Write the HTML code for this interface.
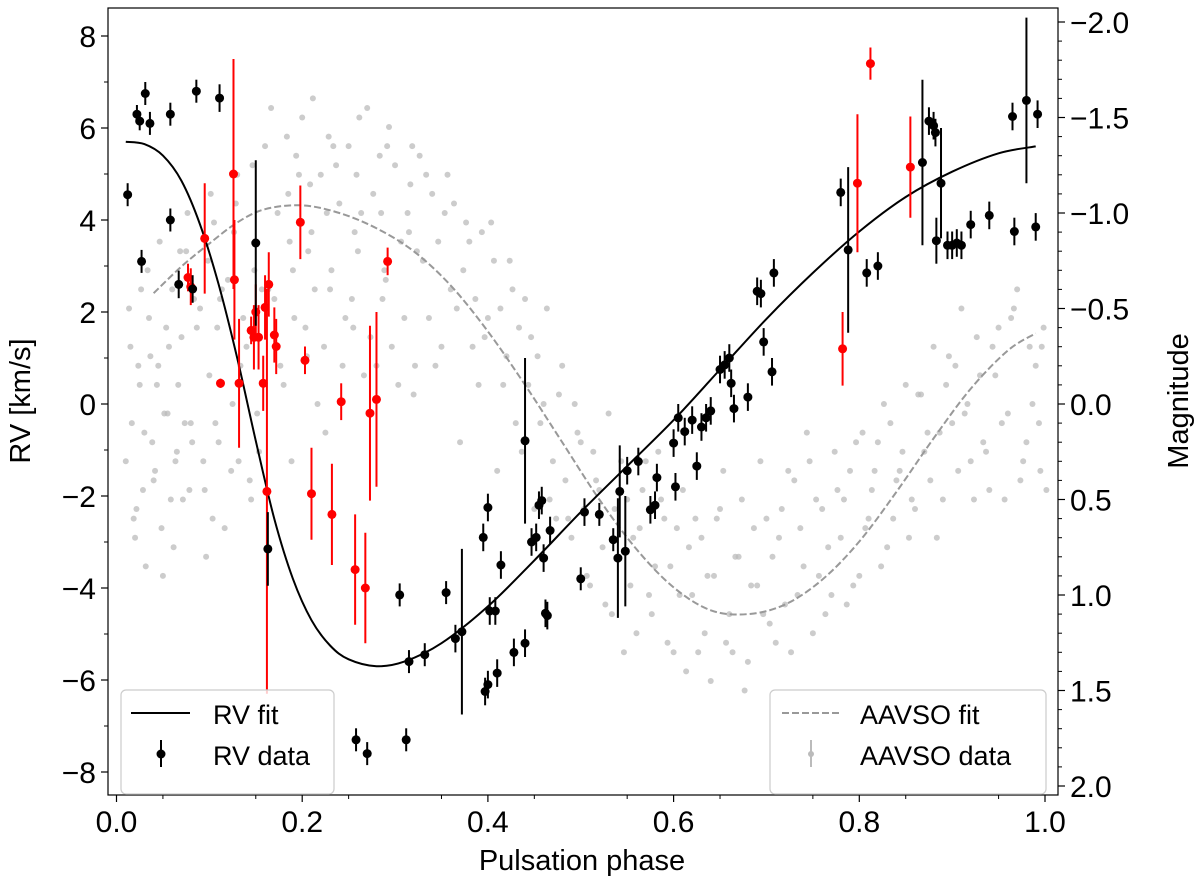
<!DOCTYPE html>
<html><head><meta charset="utf-8"><style>
body{margin:0;background:#fff}
svg{display:block;font-family:"Liberation Sans","DejaVu Sans",sans-serif}
</style></head><body>
<svg id="chart" width="1200" height="886" viewBox="0 0 1200 886"></svg>
<script>
const xTicks=[0.0,0.2,0.4,0.6,0.8,1.0];
const yTicks=[8,6,4,2,0,-2,-4,-6,-8];
const y2Ticks=["\u22122.0","\u22121.5","\u22121.0","\u22120.5","0.0","0.5","1.0","1.5","2.0"];
const y2TickVals=[-2.0,-1.5,-1.0,-0.5,0.0,0.5,1.0,1.5,2.0];
const fitPhase=[0.01,0.03,0.05,0.07,0.09,0.11,0.13,0.15,0.17,0.19,0.21,0.23,0.25,0.28,0.31,0.35,0.4,0.45,0.5,0.55,0.6,0.65,0.7,0.75,0.8,0.85,0.9,0.95,0.99];
const fitRV=[5.7,5.65,5.4,4.85,3.9,2.6,1.0,-0.8,-2.5,-3.8,-4.7,-5.25,-5.55,-5.7,-5.6,-5.2,-4.4,-3.4,-2.35,-1.35,-0.35,0.75,1.85,2.85,3.75,4.5,5.05,5.45,5.6];
const aavsoFitPhase=[0.04,0.07,0.1,0.13,0.16,0.2,0.24,0.28,0.32,0.36,0.4,0.44,0.48,0.52,0.56,0.6,0.64,0.68,0.72,0.76,0.8,0.84,0.88,0.92,0.96,0.99];
const aavsoFitMag=[-0.58,-0.72,-0.84,-0.95,-1.02,-1.04,-1.0,-0.92,-0.8,-0.62,-0.38,-0.1,0.2,0.5,0.76,0.96,1.08,1.1,1.05,0.92,0.72,0.46,0.18,-0.08,-0.28,-0.37];
const rvBlack=[[0.012,4.55,0.25],[0.022,6.3,0.2],[0.025,6.15,0.2],[0.027,3.1,0.25],[0.031,6.75,0.25],[0.036,6.1,0.25],[0.058,4.0,0.25],[0.058,6.3,0.25],[0.067,2.6,0.3],[0.082,2.5,0.3],[0.086,6.8,0.25],[0.111,6.65,0.3],[0.15,3.5,1.8],[0.163,-3.15,0.8],[0.305,-4.15,0.25],[0.315,-5.6,0.25],[0.312,-7.3,0.25],[0.258,-7.3,0.25],[0.27,-7.6,0.25],[0.332,-5.45,0.25],[0.355,-4.1,0.25],[0.365,-5.1,0.3],[0.372,-4.95,1.8],[0.395,-2.9,0.3],[0.397,-6.25,0.3],[0.4,-6.1,0.3],[0.4,-2.25,0.3],[0.402,-4.5,0.3],[0.408,-4.5,0.3],[0.41,-5.85,0.3],[0.414,-3.5,0.3],[0.428,-5.4,0.3],[0.44,-5.2,0.3],[0.44,-0.8,1.8],[0.447,-3.0,0.3],[0.452,-2.9,0.3],[0.455,-2.2,0.3],[0.458,-2.1,0.3],[0.46,-3.35,0.3],[0.462,-4.55,0.3],[0.464,-4.6,0.3],[0.467,-2.75,0.3],[0.5,-3.8,0.25],[0.504,-2.35,0.3],[0.52,-2.4,0.25],[0.535,-2.95,0.25],[0.54,-3.35,1.3],[0.542,-1.9,1.0],[0.548,-3.2,1.2],[0.55,-1.45,0.3],[0.562,-1.25,0.3],[0.575,-2.3,0.3],[0.58,-2.2,0.3],[0.582,-1.6,0.3],[0.6,-0.85,0.3],[0.602,-1.8,0.3],[0.605,-0.3,0.3],[0.612,-0.6,0.3],[0.62,-0.35,0.3],[0.625,-1.35,0.3],[0.63,-0.5,0.3],[0.635,-0.3,0.3],[0.64,-0.15,0.3],[0.65,0.75,0.3],[0.655,0.85,0.3],[0.66,1.0,0.3],[0.662,0.45,0.3],[0.665,-0.1,0.3],[0.68,0.15,0.3],[0.69,2.45,0.3],[0.694,2.4,0.3],[0.697,1.35,0.3],[0.706,0.7,0.3],[0.708,2.85,0.3],[0.78,4.6,0.3],[0.788,3.35,1.8],[0.808,2.85,0.3],[0.82,3.0,0.3],[0.868,5.25,1.8],[0.875,6.15,0.3],[0.88,6.05,0.3],[0.882,5.9,0.3],[0.883,3.55,0.5],[0.888,4.8,1.2],[0.895,3.45,0.3],[0.9,3.45,0.3],[0.905,3.5,0.3],[0.91,3.45,0.3],[0.92,3.9,0.3],[0.94,4.1,0.3],[0.965,6.25,0.3],[0.967,3.75,0.3],[0.98,6.6,1.8],[0.99,3.85,0.3],[0.992,6.3,0.3]];
const rvRed=[[0.077,2.75,0.3],[0.08,2.55,0.4],[0.095,3.6,1.2],[0.112,0.45,0.1],[0.126,5.0,2.5],[0.127,2.7,1.3],[0.132,0.45,1.4],[0.145,1.6,0.3],[0.148,1.45,0.7],[0.15,2.0,0.6],[0.153,1.45,0.7],[0.158,0.45,0.6],[0.16,2.1,0.7],[0.162,-1.9,4.4],[0.164,2.6,0.7],[0.17,1.5,0.6],[0.172,1.25,0.6],[0.198,3.95,0.8],[0.203,0.95,0.3],[0.21,-1.95,1.0],[0.232,-2.4,1.1],[0.242,0.05,0.4],[0.257,-3.6,1.2],[0.268,-4.0,1.2],[0.273,-0.2,1.9],[0.28,0.1,1.9],[0.292,3.1,0.3],[0.782,1.2,0.8],[0.798,4.8,1.5],[0.812,7.4,0.35],[0.855,5.15,1.1]];
const aavsoPhase=[0.01,0.015,0.02,0.025,0.03,0.035,0.04,0.045,0.05,0.055,0.06,0.065,0.07,0.075,0.08,0.09,0.095,0.1,0.105,0.11,0.12,0.125,0.13,0.14,0.145,0.15,0.16,0.17,0.18,0.185,0.19,0.2,0.205,0.21,0.22,0.225,0.23,0.24,0.25,0.255,0.26,0.27,0.28,0.285,0.29,0.3,0.31,0.315,0.32,0.33,0.34,0.35,0.36,0.37,0.38,0.39,0.4,0.41,0.42,0.43,0.44,0.45,0.46,0.47,0.48,0.49,0.5,0.51,0.52,0.53,0.54,0.55,0.56,0.57,0.58,0.59,0.6,0.61,0.62,0.63,0.64,0.65,0.66,0.67,0.68,0.69,0.7,0.71,0.72,0.73,0.74,0.75,0.76,0.77,0.78,0.79,0.8,0.81,0.82,0.83,0.84,0.85,0.86,0.87,0.88,0.89,0.9,0.91,0.92,0.93,0.94,0.95,0.96,0.97,0.98,0.99,0.995];
const aavsoMag=[0.3,-0.3,0.7,-0.1,0.15,-0.45,0.4,-0.2,0.9,0.05,-0.6,0.25,-0.35,-0.8,0.1,-0.5,0.45,-0.15,-0.95,0.2,-0.65,0.0,-1.2,-0.3,0.5,-0.85,-1.35,-0.55,-0.1,-1.1,-0.7,-1.5,-0.25,-0.9,-1.2,0.15,-0.6,-1.05,-1.35,-0.4,-0.8,-1.55,-0.2,-1.0,-0.65,-1.25,-0.45,-0.9,-0.05,-0.75,-1.1,-0.3,-0.6,0.2,-0.85,-0.1,-0.45,0.35,-0.25,0.1,-0.55,0.55,0.0,0.3,-0.2,0.7,0.2,0.95,0.45,0.05,0.8,0.5,1.2,0.3,0.85,0.6,1.3,0.45,1.0,0.7,1.45,0.55,1.1,0.8,1.35,0.95,0.6,1.25,1.05,0.4,0.85,1.2,0.55,1.0,0.7,0.35,0.9,0.6,0.2,0.75,0.4,-0.1,0.55,0.25,-0.3,0.5,0.1,-0.5,0.3,-0.15,0.45,-0.4,0.05,-0.6,0.2,-0.2,0.35];
const aavsoMag2=[-0.5,0.6,-0.2,0.45,-0.7,0.2,-0.1,0.65,-0.4,0.5,0.3,-0.8,0.1,0.45,-0.55,0.3,-0.75,0.6,-0.4,-0.6,0.35,-1.05,-0.2,0.4,-0.7,0.25,-0.6,-1.0,-1.4,0.3,-1.3,-0.4,-1.15,-0.6,-0.3,-1.4,-1.35,-0.2,-0.55,-1.2,-1.0,-0.35,-1.3,-0.7,-1.45,-0.1,-1.0,-1.35,-0.8,-1.2,-0.2,-1.0,-1.05,-0.7,-0.3,-0.9,-0.95,-0.5,-0.75,-0.4,-0.1,-0.25,-0.5,0.6,0.4,0.0,0.55,0.25,0.75,1.1,0.3,0.95,0.65,1.0,0.25,1.25,0.65,1.4,0.6,1.2,0.9,0.35,1.3,0.5,0.95,0.3,1.15,0.7,0.35,1.0,0.15,0.5,1.1,0.25,0.5,0.95,0.15,0.45,0.85,0.1,0.35,0.7,-0.05,0.15,0.7,-0.1,-0.2,0.05,0.5,0.2,-0.3,0.1,-0.45,0.4,-0.3,0.1,-0.4];
const aavsoMag3=[0.1,0.55,-0.6,0.85,-0.25,0.35,-0.85,0.05,-0.3,0.75,-0.1,0.5,-1.0,0.2,-0.4,0.8,-1.1,0.1,-0.55,0.65,-0.9,0.3,-0.45,-1.25,0.05,-0.6,-1.55,-0.2,-0.85,-0.45,-1.2,-0.8,-1.6,0.0,-1.0,-0.7,-1.25,-0.45,-0.9,-1.5,-0.15,-1.1,-0.55,-1.35,-0.3,-0.85,-1.15,-0.2,-1.3,-0.45,-0.85,-1.2,-0.5,-0.95,-0.55,-0.35,-0.75,-0.1,-0.6,0.25,-0.35,0.1,0.5,-0.05,0.6,0.15,0.9,0.4,1.05,0.55,1.3,0.7,0.45,1.1,0.5,0.85,1.0,0.75,1.3,0.9,0.6,1.25,0.8,1.5,0.65,1.1,0.8,0.55,1.3,0.65,0.3,0.9,0.75,0.45,1.05,0.2,0.65,0.35,0.0,0.6,0.25,0.5,-0.05,0.4,0.15,-0.25,0.35,0.0,-0.35,0.25,-0.15,0.5,-0.5,0.3,0.0,-0.3,0.45];

const NS='http://www.w3.org/2000/svg';
const svg=document.getElementById('chart');
const L=108,R=1058,T=8,B=795;
const xS=p=>116.5+p*928.5;
const yS=v=>404-v*46;
const y2S=m=>404+m*191;
function mk(tag,attrs,parent){const e=document.createElementNS(NS,tag);for(const k in attrs)e.setAttribute(k,attrs[k]);(parent||svg).appendChild(e);return e;}

const gAav=mk('g',{});


[[aavsoMag,0],[aavsoMag2,0.0035],[aavsoMag3,0.0065]].forEach(([arr,off])=>aavsoPhase.forEach((p,i)=>{const c=mk('circle',{cx:xS(p+off),cy:y2S(arr[i]),r:3,fill:'#bbb','fill-opacity':0.75},gAav);

}));

function smooth(xs,ys){let pts=xs.map((p,i)=>[p,ys[i]]);let d='M'+pts[0];
for(let i=0;i<pts.length-1;i++){const p0=pts[Math.max(0,i-1)],p1=pts[i],p2=pts[i+1],p3=pts[Math.min(pts.length-1,i+2)];
d+=`C${p1[0]+(p2[0]-p0[0])/6},${p1[1]+(p2[1]-p0[1])/6} ${p2[0]-(p3[0]-p1[0])/6},${p2[1]-(p3[1]-p1[1])/6} ${p2[0]},${p2[1]}`;}return d;}
const aPath=mk('path',{d:smooth(aavsoFitPhase.map(xS),aavsoFitMag.map(y2S)),fill:'none',stroke:'#999','stroke-width':2,'stroke-dasharray':'7,3'});


const fPath=mk('path',{d:smooth(fitPhase.map(xS),fitRV.map(yS)),fill:'none',stroke:'#000','stroke-width':2});



function drawPts(arr,col,name){const g=mk('g',{});


arr.forEach(([p,v,e])=>{const x=xS(p);mk('line',{x1:x,x2:x,y1:yS(v+e),y2:yS(v-e),stroke:col,'stroke-width':2},g);
const c=mk('circle',{cx:x,cy:yS(v),r:4.5,fill:col},g);

});}
drawPts(rvRed,'#ff0000','rv-data-red');
drawPts(rvBlack,'#000','rv-data-black');

const fr=mk('rect',{x:L,y:T,width:R-L,height:B-T,fill:'none',stroke:'#000','stroke-width':1.2});


function txt(x,y,s,anchor,size,name){const t=mk('text',{x:x,y:y,'text-anchor':anchor,'font-size':size,fill:'#000'});t.textContent=s;

return t;}
const fmt=v=>(v<0?'\u2212':'')+Math.abs(v);
xTicks.forEach(v=>{const x=xS(v);mk('line',{x1:x,x2:x,y1:B,y2:B+7,stroke:'#000','stroke-width':1.2});txt(x,B+37,v.toFixed(1),'middle',30,'x-tick-label');});
for(let v=0.05;v<1;v+=0.1){const x=xS(v);mk('line',{x1:x,x2:x,y1:B,y2:B+4,stroke:'#000'});}
yTicks.forEach(v=>{const y=yS(v);mk('line',{x1:L,x2:L-7,y1:y,y2:y,stroke:'#000','stroke-width':1.2});txt(L-12,y+11,fmt(v),'end',30,'y-tick-label');});
for(let v=-9;v<=9;v+=2){const y=yS(v);if(y>T&&y<B)mk('line',{x1:L,x2:L-4,y1:y,y2:y,stroke:'#000'});}
y2TickVals.forEach((v,i)=>{const y=y2S(v);mk('line',{x1:R,x2:R+7,y1:y,y2:y,stroke:'#000','stroke-width':1.2});txt(R+12,y+11,y2Ticks[i],'start',30,'y2-tick-label');});
for(let v=-2;v<=2.01;v+=0.1){const y=y2S(v);if(y>T&&y<B)mk('line',{x1:R,x2:R+4,y1:y,y2:y,stroke:'#000'});}
txt(582,870,'Pulsation phase','middle',29,'x-axis-title');
const yl=txt(0,0,'RV [km/s]','middle',29,'y-axis-title');yl.setAttribute('transform','translate(30,401) rotate(-90)');
const y2l=txt(0,0,'Magnitude','middle',29,'y2-axis-title');y2l.setAttribute('transform','translate(1188,401) rotate(-90)');

function legend(x,y,w,name){const r=mk('rect',{x:x,y:y,width:w,height:104,rx:5,fill:'#fff','fill-opacity':0.8,stroke:'#ccc','stroke-width':1.2});

}
legend(121,690,213,'legend-left');
mk('line',{x1:131,x2:190,y1:713,y2:713,stroke:'#000','stroke-width':2});
txt(213,724,'RV fit','start',27,'legend-entry');
mk('line',{x1:161,x2:161,y1:740,y2:767,stroke:'#000','stroke-width':2});mk('circle',{cx:161,cy:754,r:4.5,fill:'#000'});
txt(213,765,'RV data','start',27,'legend-entry');
legend(770,690,276,'legend-right');
mk('line',{x1:782,x2:840,y1:713,y2:713,stroke:'#999','stroke-width':2,'stroke-dasharray':'7,3'});
txt(860,724,'AAVSO fit','start',27,'legend-entry');
mk('line',{x1:811,x2:811,y1:740,y2:767,stroke:'#bbb','stroke-width':2});mk('circle',{cx:811,cy:754,r:3,fill:'#bbb'});
txt(860,765,'AAVSO data','start',27,'legend-entry');
</script>
</body></html>
